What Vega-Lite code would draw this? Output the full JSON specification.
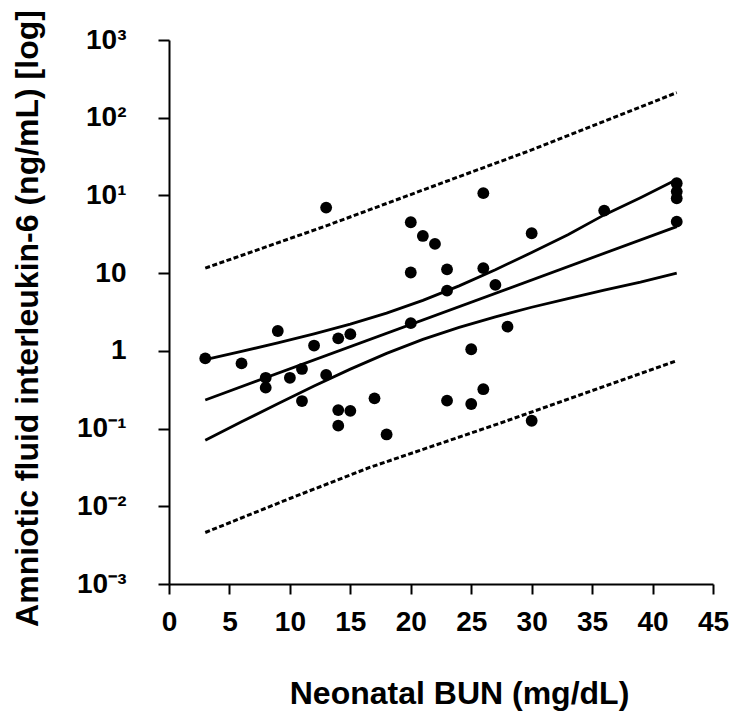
{
  "$schema": "https://vega.github.io/schema/vega-lite/v6.json",
  "width": 544,
  "height": 544,
  "autosize": {"type": "none"},
  "padding": {"left": 169, "top": 40, "right": 28, "bottom": 132},
  "background": "white",
  "config": {
    "view": {"stroke": null},
    "font": "Liberation Sans",
    "axis": {
      "grid": false,
      "domainColor": "#000",
      "domainWidth": 2,
      "tickColor": "#000",
      "tickWidth": 2,
      "labelColor": "#000",
      "titleColor": "#000",
      "labelFont": "Liberation Sans",
      "titleFont": "Liberation Sans",
      "labelFontWeight": "bold",
      "titleFontWeight": "bold",
      "labelFontSize": 28,
      "titleFontSize": 32,
      "labelFlush": false,
      "labelOverlap": false,
      "labelBound": false
    }
  },
  "datasets": {
    "points": [
      {"bun": 3, "il6": 0.80}, {"bun": 6, "il6": 0.69}, {"bun": 8, "il6": 0.45}, {"bun": 8, "il6": 0.336},
      {"bun": 9, "il6": 1.80}, {"bun": 10, "il6": 0.45}, {"bun": 11, "il6": 0.585}, {"bun": 11, "il6": 0.226},
      {"bun": 12, "il6": 1.17}, {"bun": 13, "il6": 69.7}, {"bun": 13, "il6": 0.49}, {"bun": 14, "il6": 1.45},
      {"bun": 15, "il6": 1.64}, {"bun": 14, "il6": 0.173}, {"bun": 15, "il6": 0.169}, {"bun": 14, "il6": 0.109},
      {"bun": 17, "il6": 0.245}, {"bun": 18, "il6": 0.084}, {"bun": 20, "il6": 45.2}, {"bun": 21, "il6": 30.1},
      {"bun": 22, "il6": 23.8}, {"bun": 20, "il6": 10.2}, {"bun": 23, "il6": 11.2}, {"bun": 23, "il6": 5.96},
      {"bun": 20, "il6": 2.27}, {"bun": 23, "il6": 0.229}, {"bun": 26, "il6": 107}, {"bun": 26, "il6": 11.6},
      {"bun": 27, "il6": 7.05}, {"bun": 30, "il6": 32.6}, {"bun": 36, "il6": 63.8}, {"bun": 42, "il6": 143.6},
      {"bun": 42, "il6": 112}, {"bun": 42, "il6": 92}, {"bun": 42, "il6": 46.0}, {"bun": 28, "il6": 2.05},
      {"bun": 25, "il6": 1.05}, {"bun": 25, "il6": 0.207}, {"bun": 26, "il6": 0.321}, {"bun": 30, "il6": 0.126}
    ],
    "solid": [
      {"curve": "fit", "bun": 3, "il6": 0.233}, {"curve": "fit", "bun": 42, "il6": 39.7},
      {"curve": "ciUpper", "bun": 3, "il6": 0.773}, {"curve": "ciUpper", "bun": 6, "il6": 0.984},
      {"curve": "ciUpper", "bun": 9, "il6": 1.265}, {"curve": "ciUpper", "bun": 12, "il6": 1.652},
      {"curve": "ciUpper", "bun": 15, "il6": 2.203}, {"curve": "ciUpper", "bun": 18, "il6": 3.055},
      {"curve": "ciUpper", "bun": 21, "il6": 4.457}, {"curve": "ciUpper", "bun": 24, "il6": 6.855},
      {"curve": "ciUpper", "bun": 27, "il6": 11.07}, {"curve": "ciUpper", "bun": 30, "il6": 18.41},
      {"curve": "ciUpper", "bun": 33, "il6": 31.26}, {"curve": "ciUpper", "bun": 36, "il6": 56.2},
      {"curve": "ciUpper", "bun": 39, "il6": 93.5}, {"curve": "ciUpper", "bun": 42, "il6": 160},
      {"curve": "ciLower", "bun": 3, "il6": 0.0705}, {"curve": "ciLower", "bun": 6, "il6": 0.122},
      {"curve": "ciLower", "bun": 9, "il6": 0.209}, {"curve": "ciLower", "bun": 12, "il6": 0.353},
      {"curve": "ciLower", "bun": 15, "il6": 0.582}, {"curve": "ciLower", "bun": 18, "il6": 0.927},
      {"curve": "ciLower", "bun": 21, "il6": 1.403}, {"curve": "ciLower", "bun": 24, "il6": 2.004},
      {"curve": "ciLower", "bun": 27, "il6": 2.742}, {"curve": "ciLower", "bun": 30, "il6": 3.639},
      {"curve": "ciLower", "bun": 33, "il6": 4.71}, {"curve": "ciLower", "bun": 36, "il6": 6.039},
      {"curve": "ciLower", "bun": 39, "il6": 7.674}, {"curve": "ciLower", "bun": 42, "il6": 10.0}
    ],
    "dotted": [
      {"curve": "piUpper", "bun": 3, "il6": 11.6}, {"curve": "piUpper", "bun": 13, "il6": 40.6},
      {"curve": "piUpper", "bun": 24, "il6": 174.6}, {"curve": "piUpper", "bun": 30, "il6": 385},
      {"curve": "piUpper", "bun": 42, "il6": 2104},
      {"curve": "piLower", "bun": 3, "il6": 0.0046}, {"curve": "piLower", "bun": 10, "il6": 0.0126},
      {"curve": "piLower", "bun": 16.6, "il6": 0.0316}, {"curve": "piLower", "bun": 27.4, "il6": 0.1175},
      {"curve": "piLower", "bun": 42, "il6": 0.748}
    ]
  },
  "encoding": {
    "x": {
      "field": "bun", "type": "quantitative",
      "scale": {"domain": [0, 45], "nice": false, "zero": false},
      "axis": {
        "values": [0, 5, 10, 15, 20, 25, 30, 35, 40, 45],
        "title": "Neonatal BUN (mg/dL)",
        "tickSize": 10,
        "labelPadding": 14,
        "titleX": 290,
        "titleY": 109,
        "titleAlign": "center",
        "titleBaseline": "middle"
      }
    },
    "y": {
      "field": "il6", "type": "quantitative",
      "scale": {"type": "log", "domain": [0.001, 10000], "nice": false},
      "axis": {
        "values": [0.001, 0.01, 0.1, 1, 10, 100, 1000, 10000],
        "labelExpr": "['10⁻³','10⁻²','10⁻¹','1','10','10¹','10²','10³'][round(log(datum.value)/LN10)+3]",
        "title": "Amniotic fluid interleukin-6 (ng/mL) [log]",
        "tickSize": 11,
        "labelPadding": 32,
        "titleAngle": -90,
        "titleX": -142,
        "titleY": 278,
        "titleAlign": "center",
        "titleBaseline": "middle"
      }
    }
  },
  "layer": [
    {
      "data": {"name": "dotted"},
      "mark": {"type": "line", "color": "#000", "strokeWidth": 3, "strokeDash": [5, 2.5]},
      "encoding": {"detail": {"field": "curve"}}
    },
    {
      "data": {"name": "solid"},
      "mark": {"type": "line", "color": "#000", "strokeWidth": 2.8},
      "encoding": {"detail": {"field": "curve"}}
    },
    {
      "data": {"name": "points"},
      "mark": {"type": "point", "filled": true, "shape": "circle", "color": "#000", "opacity": 1, "size": 140}
    }
  ]
}
